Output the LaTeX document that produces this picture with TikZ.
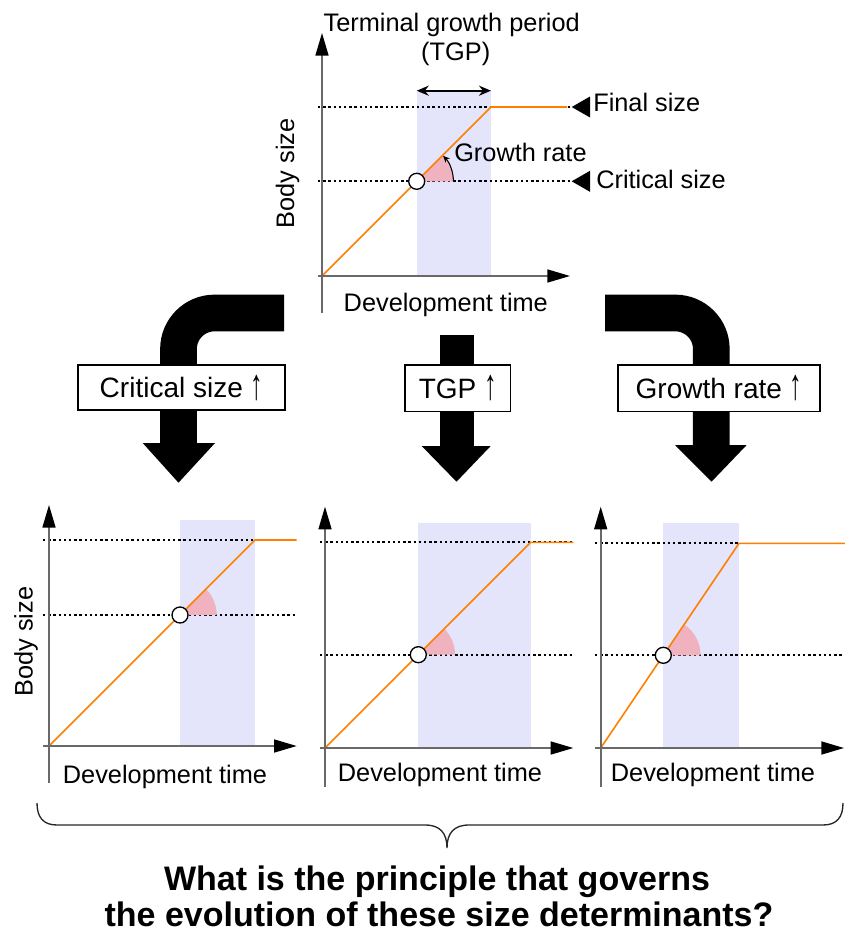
\documentclass[tikz,border=0pt]{standalone}
\usepackage{fontspec}
\setmainfont{Liberation Sans}
\usetikzlibrary{arrows.meta,calc}
\definecolor{axisgray}{RGB}{105,105,105}
\definecolor{tgpfill}{RGB}{228,228,250}
\definecolor{wedgepink}{RGB}{240,178,190}
\definecolor{groworange}{RGB}{255,128,0}
\newcommand{\uparr}{\raisebox{-0.05em}{\scalebox{0.9}[1.55]{↑}}}
\begin{document}
\begin{tikzpicture}[x=0.75pt,y=-0.75pt,
  axisline/.style={draw=axisgray,line width=1.2pt,-{Triangle[length=17pt,width=9.75pt,color=black]}},
  dotline/.style={draw=black,line width=1.4pt,dash pattern=on 1.8pt off 2.1pt},
  growline/.style={draw=groworange,line width=1.2pt},
  tgpband/.style={fill=tgpfill},
  wedgefill/.style={fill=wedgepink},
  critdot/.style={circle,draw=black,fill=white,line width=1pt,inner sep=0pt,minimum size=12pt},
  lbl/.style={font=\fontsize{19}{22}\selectfont,inner sep=0pt},
  boxlbl/.style={draw=black,fill=white,line width=1pt,font=\fontsize{21}{24}\selectfont,inner sep=0pt},
  fatarrow/.style={draw=black,line width=27.5pt},
  headtri/.style={fill=black},
  marker/.style={fill=black},
]
\useasboundingbox (0,0) rectangle (845,935);

% ================= top graph =================
\coordinate (O1) at (322,276);
\coordinate (F1) at (491,107);
\coordinate (C1) at (416.7,181.3);
\fill[tgpband] (416.7,91) rectangle (491,276);
\draw[dotline] (318,107) -- (571,107);
\draw[dotline] (318,181.3) -- (571,181.3);
\fill[wedgefill] (C1) -- ($(C1)+(36.7,0)$) arc[start angle=0,end angle=-45,radius=36.7] -- cycle;
\draw[growline] (O1) -- (F1) -- (567,107);
\draw[line width=0.8pt,-{Stealth[length=5pt,width=4.5pt]}] ($(C1)+(36.7,0)$) arc[start angle=0,end angle=-44,radius=36.7];
\node[critdot] (c1) at (C1) {};
\draw[axisline] (322,313) -- (322,33);
\draw[axisline] (318,276) -- (570,276);
\coordinate (T1) at (416.7,90.7);
\coordinate (T2) at (491,90.7);
\draw[line width=1.5pt,{Stealth[length=9pt,width=7.5pt]}-{Stealth[length=9pt,width=7.5pt]}] (T1) -- (T2);
\fill[marker] (571.7,107) -- (590,96.5) -- (590,117.5) -- cycle;
\fill[marker] (571.7,181.3) -- (590,170.8) -- (590,191.8) -- cycle;
\node[lbl,anchor=base] (tgpA) at (451.7,31.7) {Terminal growth period};
\node[lbl,anchor=base] (tgpB) at (455.7,60) {(TGP)};
\node[lbl,anchor=base west] (fs) at (593,111.7) {Final size};
\node[lbl,anchor=base west] (cs) at (596,188.3) {Critical size};
\node[lbl,anchor=base west] (gr) at (454,161.7) {Growth rate};
\node[lbl,anchor=base] (dt1) at (445.8,311.7) {Development time};
\node[lbl,anchor=base,rotate=90] (bs1) at (294,173.3) {Body size};

% ================= thick arrows and boxes =================
\coordinate (LA0) at (284,313);
\coordinate (LA1) at (178.5,443);
\draw[fatarrow,rounded corners=27pt] (LA0) -| (LA1);
\fill[headtri] (142.7,443) -- (215,443) -- (178.5,482.7) -- cycle;
\coordinate (MA0) at (456.5,335);
\coordinate (MA1) at (456.5,446);
\draw[draw=black,line width=25.5pt] (MA0) -- (MA1);
\fill[headtri] (421.7,446) -- (490.7,446) -- (456.5,481.7) -- cycle;
\coordinate (RA0) at (605,313);
\coordinate (RA1) at (711.3,445);
\draw[fatarrow,rounded corners=27pt] (RA0) -| (RA1);
\fill[headtri] (675,445) -- (746.7,445) -- (711.5,481.7) -- cycle;

\node[boxlbl,minimum width=155.25pt,minimum height=33.75pt] (bxC) at (181.5,387.5) {Critical size \uparr};
\node[boxlbl,minimum width=79.3pt,minimum height=35pt] (bxT) at (457.8,388.3) {TGP \uparr};
\node[boxlbl,minimum width=151.5pt,minimum height=35pt] (bxG) at (719,388.3) {Growth rate \uparr};

% ================= bottom-left graph =================
\coordinate (O2) at (49,746);
\coordinate (F2) at (255,540);
\coordinate (C2) at (180,615);
\fill[tgpband] (180,520) rectangle (255,746);
\draw[dotline] (43,540) -- (296.7,540);
\draw[dotline] (43,615) -- (296.7,615);
\fill[wedgefill] (C2) -- ($(C2)+(36.7,0)$) arc[start angle=0,end angle=-45,radius=36.7] -- cycle;
\draw[growline] (O2) -- (F2) -- (296.7,540);
\node[critdot] (c2) at (C2) {};
\draw[axisline] (49,783) -- (49,505);
\draw[axisline] (43,746) -- (296.7,746);
\node[lbl,anchor=base] (dt2) at (165,783.3) {Development time};
\node[lbl,anchor=base,rotate=90] (bs2) at (32.7,641.7) {Body size};

% ================= bottom-middle graph =================
\coordinate (O3) at (325,748);
\coordinate (F3) at (530.7,542.3);
\coordinate (C3) at (418.3,654.7);
\fill[tgpband] (418.3,523) rectangle (530.7,748);
\draw[dotline] (320,542.3) -- (573.3,542.3);
\draw[dotline] (320,654.7) -- (573.3,654.7);
\fill[wedgefill] (C3) -- ($(C3)+(36.7,0)$) arc[start angle=0,end angle=-45,radius=36.7] -- cycle;
\draw[growline] (O3) -- (F3) -- (573.3,542.3);
\node[critdot] (c3) at (C3) {};
\draw[axisline] (325,786.7) -- (325,506.7);
\draw[axisline] (320,748) -- (573.3,748);
\node[lbl,anchor=base] (dt3) at (440,781.7) {Development time};

% ================= bottom-right graph =================
\coordinate (O4) at (600.7,748);
\coordinate (F4) at (739,543.3);
\coordinate (C4) at (663.3,655.3);
\fill[tgpband] (663.3,523) rectangle (739,748);
\draw[dotline] (595,543.3) -- (739,543.3);
\draw[dotline] (595,655.3) -- (845,655.3);
\fill[wedgefill] (C4) -- ($(C4)+(37.3,0)$) arc[start angle=0,end angle=-56,radius=37.3] -- cycle;
\draw[growline] (O4) -- (F4) -- (845,543.3);
\node[critdot] (c4) at (C4) {};
\draw[axisline] (600.7,786.7) -- (600.7,506.7);
\draw[axisline] (595,748) -- (844,748);
\node[lbl,anchor=base] (dt4) at (713,781.7) {Development time};

% ================= brace and question =================
\coordinate (BrL) at (37,803);
\coordinate (BrR) at (843,803);
\coordinate (BrT) at (447,848);
\draw[draw=black!85,line width=1pt] (BrL) .. controls (37,817) and (43,825) .. (57,825) -- (425,825)
  .. controls (440,825) and (447,833) .. (BrT)
  .. controls (447,833) and (454,825) .. (469,825) -- (823,825)
  .. controls (837,825) and (843,817) .. (BrR);
\node[font=\fontsize{25.5}{28}\selectfont\bfseries,inner sep=0pt,anchor=base] (q1) at (437,890.7) {What is the principle that governs};
\node[font=\fontsize{25.5}{28}\selectfont\bfseries,inner sep=0pt,anchor=base] (q2) at (439,926.7) {the evolution of these size determinants?};
\end{tikzpicture}
\end{document}
